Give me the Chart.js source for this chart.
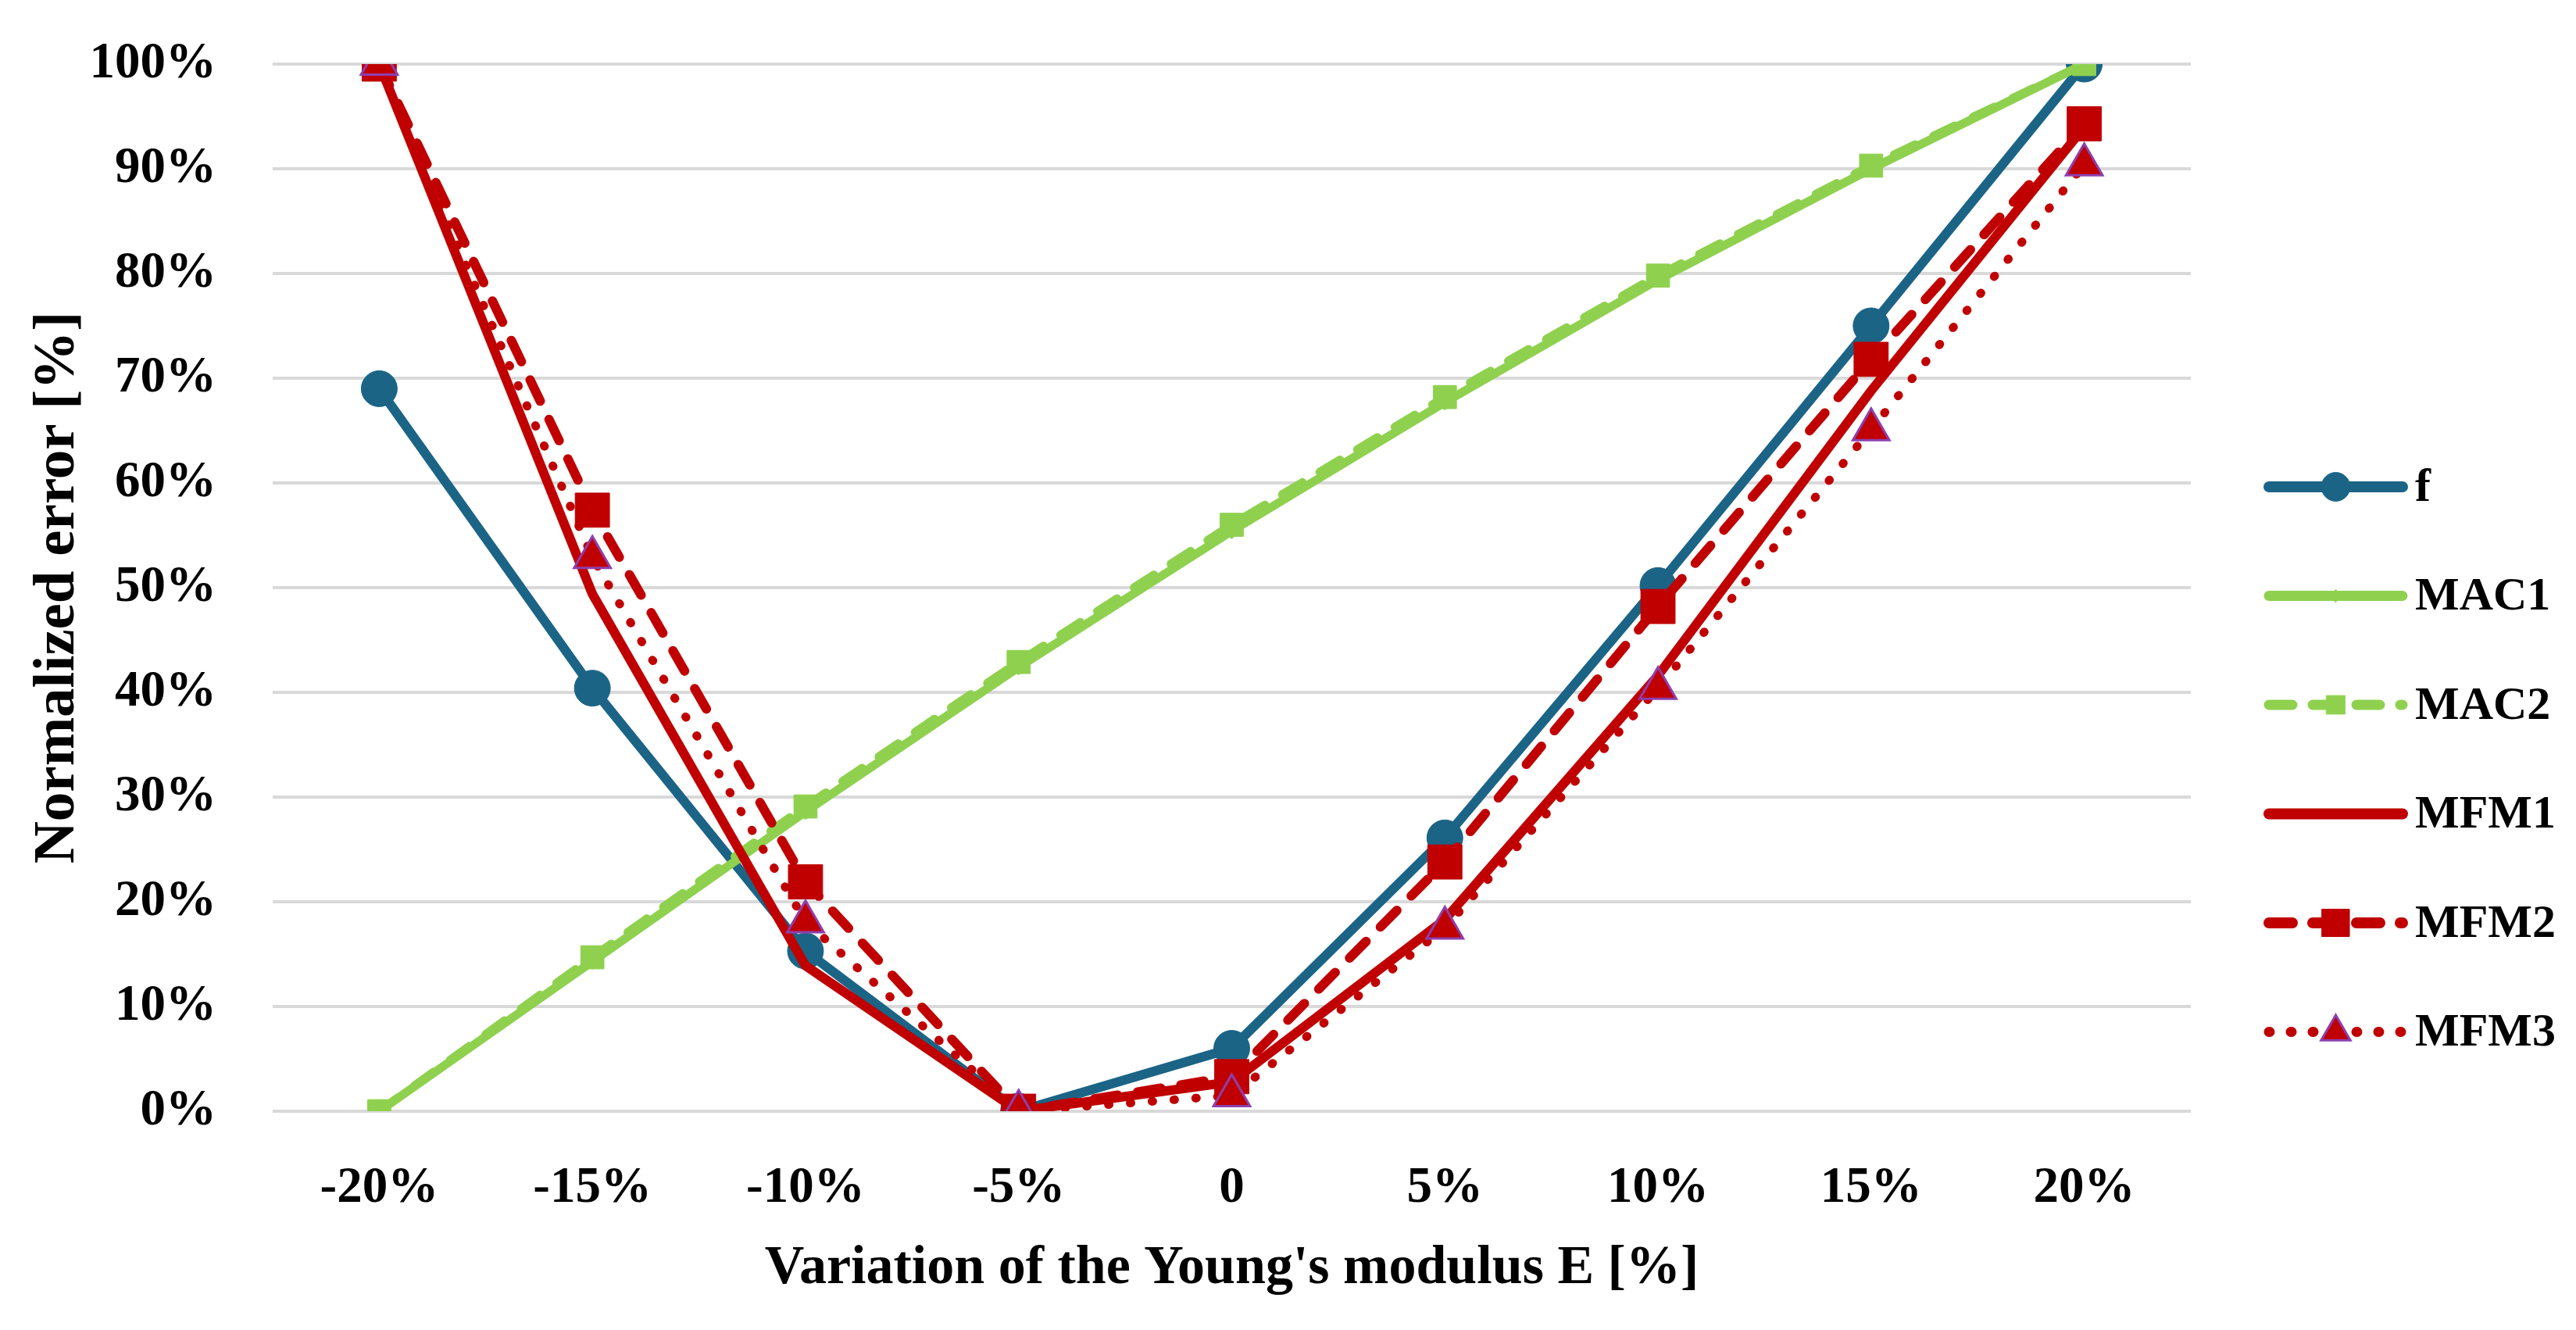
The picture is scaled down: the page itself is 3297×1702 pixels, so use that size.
<!DOCTYPE html>
<html>
<head>
<meta charset="utf-8">
<script src="https://cdn.jsdelivr.net/npm/chart.js@4.4.1/dist/chart.umd.min.js"></script>
<style>
  html, body { margin: 0; padding: 0; background: #fff; }
  canvas { display: block; }
</style>
</head>
<body>
<canvas id="errorChart" width="3297" height="1702"></canvas>
<script>
/* ===== DATA ===== */
const categories = ['-20%', '-15%', '-10%', '-5%', '0', '5%', '10%', '15%', '20%'];
const yTicks = [0, 10, 20, 30, 40, 50, 60, 70, 80, 90, 100];

const fValues    = [69.0, 40.4, 15.3, 0, 6.0, 26.1, 50.2, 75.0, 100];
const mac1Values = [0, 14.3, 28.6, 42.4, 55.4, 67.7, 79.4, 90.0, 100];
const mac2Values = [0, 14.7, 29.1, 42.9, 56.0, 68.2, 79.8, 90.3, 100];
const mfm1Values = [100, 49.4, 13.9, 0, 2.8, 18.3, 41.6, 68.8, 94.0];
const mfm2Values = [100, 57.4, 21.9, 0, 3.3, 23.8, 48.2, 71.8, 94.3];
const mfm3Values = [100, 52.9, 18.1, 0, 1.5, 17.5, 40.4, 65.1, 90.4];

/* ===== STYLE ===== */
const BLUE = '#1B6486';
const GREEN = '#8FD14F';
const RED = '#C00000';
const PURPLE = '#8E3FAF';
const FONT = '"Liberation Serif", "Times New Roman", serif';

/* ===== LEGEND (drawn on the right side) ===== */
const sideLegend = {
    id: 'sideLegend',
    afterDraw(chart) {
        const ctx = chart.ctx;
        const x0 = chart.chartArea.right + 100;
        const lineLen = 171;
        const top = 623;
        const step = 139.5;
        chart.data.datasets.forEach((ds, i) => {
            const y = top + i * step;
            ctx.save();
            ctx.strokeStyle = ds.borderColor;
            ctx.lineWidth = ds.borderWidth + 2;
            ctx.lineCap = 'round';
            ctx.setLineDash(ds.borderDash || []);
            ctx.beginPath();
            ctx.moveTo(x0, y);
            ctx.lineTo(x0 + lineLen, y);
            ctx.stroke();
            ctx.setLineDash([]);
            if (ds.pointRadius > 0) {
                ctx.fillStyle = ds.pointBackgroundColor;
                ctx.strokeStyle = ds.pointBorderColor;
                ctx.lineWidth = ds.pointBorderWidth;
                Chart.helpers.drawPoint(ctx, {
                    pointStyle: ds.pointStyle,
                    radius: ds.pointRadius * 0.8,
                    rotation: 0,
                    borderWidth: ds.pointBorderWidth
                }, x0 + lineLen / 2, y);
            }
            ctx.fillStyle = '#000';
            ctx.font = 'bold 60px ' + FONT;
            ctx.textAlign = 'left';
            ctx.textBaseline = 'middle';
            ctx.fillText(ds.label, x0 + lineLen + 16, y + 2);
            ctx.restore();
        });
    }
};

/* ===== CHART ===== */
function initializeChart() {
    const ctx = document.getElementById('errorChart');
    new Chart(ctx.getContext('2d'), {
        type: 'line',
        data: {
            labels: categories,
            datasets: [
                {
                    label: 'f', data: fValues, order: 6,
                    borderColor: BLUE, borderWidth: 12,
                    pointStyle: 'circle', pointRadius: 23,
                    pointBackgroundColor: BLUE, pointBorderColor: BLUE, pointBorderWidth: 1
                },
                {
                    label: 'MAC1', data: mac1Values, order: 5,
                    borderColor: GREEN, borderWidth: 11,
                    pointStyle: 'rectRot', pointRadius: 10,
                    pointBackgroundColor: GREEN, pointBorderColor: GREEN, pointBorderWidth: 1
                },
                {
                    label: 'MAC2', data: mac2Values, order: 4,
                    borderColor: GREEN, borderWidth: 11, borderDash: [30, 26], borderCapStyle: 'round',
                    pointStyle: 'rect', pointRadius: 21,
                    pointBackgroundColor: GREEN, pointBorderColor: GREEN, pointBorderWidth: 1
                },
                {
                    label: 'MFM1', data: mfm1Values, order: 3,
                    borderColor: RED, borderWidth: 12,
                    pointRadius: 0,
                    pointBackgroundColor: RED, pointBorderColor: RED, pointBorderWidth: 0
                },
                {
                    label: 'MFM2', data: mfm2Values, order: 2,
                    borderColor: RED, borderWidth: 12, borderDash: [30, 26], borderCapStyle: 'round',
                    pointStyle: 'rect', pointRadius: 31,
                    pointBackgroundColor: RED, pointBorderColor: RED, pointBorderWidth: 1
                },
                {
                    label: 'MFM3', data: mfm3Values, order: 1,
                    borderColor: RED, borderWidth: 11, borderDash: [1, 27], borderCapStyle: 'round',
                    pointStyle: 'triangle', pointRadius: 27,
                    pointBackgroundColor: RED, pointBorderColor: PURPLE, pointBorderWidth: 3
                }
            ]
        },
        options: {
            responsive: false,
            animation: false,
            devicePixelRatio: 1,
            layout: {
                padding: { left: 0, top: 82, right: 493, bottom: 0 }
            },
            plugins: {
                legend: { display: false },
                tooltip: { enabled: false }
            },
            elements: {
                line: { tension: 0, fill: false }
            },
            scales: {
                x: {
                    offset: true,
                    grid: { display: false },
                    border: { display: false },
                    ticks: {
                        color: '#000',
                        padding: 52,
                        maxRotation: 0,
                        font: { family: FONT, size: 65, weight: 'bold' }
                    },
                    title: {
                        display: true,
                        text: "Variation of the Young's modulus E [%]",
                        color: '#000',
                        padding: { top: 0, bottom: 36 },
                        font: { family: FONT, size: 70, weight: 'bold' }
                    },
                    afterFit(scale) { scale.height = 280; }
                },
                y: {
                    min: 0,
                    max: 100,
                    afterBuildTicks(scale) { scale.ticks = yTicks.map(v => ({ value: v })); },
                    grid: { color: '#D9D9D9', lineWidth: 4, drawTicks: false },
                    border: { display: false },
                    ticks: {
                        color: '#000',
                        padding: 72,
                        callback: v => v + '%',
                        font: { family: FONT, size: 65, weight: 'bold' }
                    },
                    title: {
                        display: true,
                        text: 'Normalized error [%]',
                        color: '#000',
                        padding: { top: 30, bottom: 0 },
                        font: { family: FONT, size: 75, weight: 'bold' }
                    },
                    afterFit(scale) {
                        scale.width = 349;
                        scale.paddingTop = 0;
                        scale.paddingBottom = 0;
                    }
                }
            }
        },
        plugins: [sideLegend]
    });
}

document.addEventListener('DOMContentLoaded', initializeChart);
</script>
</body>
</html>
